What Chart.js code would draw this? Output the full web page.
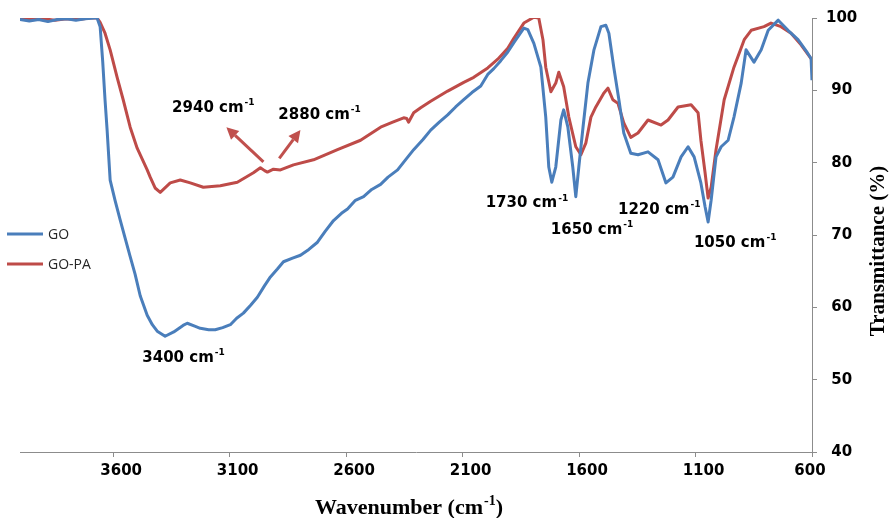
<!DOCTYPE html>
<html><head><meta charset="utf-8">
<script src="https://cdn.jsdelivr.net/npm/chart.js@4.4.0/dist/chart.umd.min.js"></script>
<style>html,body{margin:0;padding:0;background:#fff;overflow:hidden;}</style>
</head><body>
<canvas id="c" width="894" height="518"></canvas>
<script>
// ---- data ----
const seriesNames = ['GO', 'GO-PA'];
const goWave = [4000,3960,3920,3880,3840,3800,3760,3720,3680,3669,3656,3645,3635,3626,3613,3592,3570,3549,3527,3506,3484,3454,3432,3411,3377,3340,3300,3282,3250,3226,3190,3162,3130,3097,3070,3041,3010,2981,2950,2925,2895,2869,2830,2796,2760,2723,2690,2654,2620,2594,2560,2525,2490,2452,2420,2379,2340,2310,2270,2237,2200,2164,2130,2095,2060,2022,1992,1966,1936,1906,1880,1863,1837,1820,1794,1764,1743,1730,1717,1700,1678,1666,1648,1627,1614,1601,1583,1562,1536,1506,1485,1472,1451,1429,1408,1378,1347,1304,1261,1227,1197,1162,1132,1106,1077,1059,1046,1033,1012,990,960,935,904,883,849,818,788,745,703,660,620,604,600];
const goT = [99.8,99.6,99.8,99.5,99.8,99.9,99.7,99.9,100,100,98.8,94.0,88.7,84.5,77.6,74.8,72.1,69.6,67.0,64.6,61.6,58.9,57.6,56.7,56.0,56.6,57.5,57.8,57.4,57.1,56.9,56.9,57.2,57.6,58.5,59.2,60.3,61.4,63.0,64.2,65.3,66.3,66.8,67.2,68.0,69.0,70.5,72.0,73.0,73.6,74.8,75.3,76.3,77.0,78.0,79.0,80.6,81.8,83.2,84.5,85.6,86.6,87.7,88.7,89.7,90.6,92.2,93.0,94.1,95.3,96.6,97.4,98.6,98.4,96.5,93.2,86.3,79.4,77.3,79.4,85.9,87.3,84.9,79.4,75.3,79.4,84.9,91.0,95.6,98.8,99.0,97.9,93.2,88.7,84.1,81.3,81.1,81.5,80.4,77.2,78.0,80.8,82.2,80.8,77.2,73.9,71.8,74.8,80.8,82.2,83.1,86.3,91.0,95.6,93.9,95.6,98.3,99.7,98.3,97.0,95.2,94.4,91.4];
const gopaWave = [4000,3950,3900,3850,3800,3750,3700,3669,3656,3635,3613,3583,3557,3527,3497,3454,3441,3420,3398,3355,3312,3269,3213,3140,3067,2998,2968,2950,2938,2912,2882,2826,2740,2637,2538,2452,2400,2353,2340,2332,2310,2280,2237,2164,2095,2052,1992,1949,1906,1880,1837,1794,1773,1755,1743,1721,1700,1687,1666,1644,1614,1592,1571,1549,1528,1494,1476,1455,1433,1408,1378,1347,1304,1248,1218,1175,1119,1089,1077,1059,1046,1033,1012,977,935,891,861,806,776,733,690,647,600];
const gopaT = [100,99.8,99.9,99.7,99.9,99.8,100,100,99.4,97.9,95.6,91.8,88.7,84.9,82.0,79.0,78.0,76.5,75.9,77.2,77.6,77.2,76.6,76.8,77.3,78.6,79.3,78.9,78.7,79.1,79.0,79.7,80.4,81.8,83.1,84.9,85.6,86.2,86.1,85.6,86.9,87.6,88.5,89.9,91.1,91.8,93.1,94.3,95.8,97.2,99.3,100.1,100,97.0,93.2,89.8,91.0,92.5,90.5,86.3,82.2,81.1,82.7,86.3,87.7,89.6,90.3,88.7,88.2,85.5,83.5,84.1,85.9,85.2,85.9,87.7,88.0,86.9,83.1,78.6,75.1,76.6,81.8,88.7,93.2,97.0,98.3,98.8,99.3,98.8,97.9,96.3,94.2];
const xTickValues = [3600, 3100, 2600, 2100, 1600, 1100, 600];
const yTickValues = [40, 50, 60, 70, 80, 90, 100];
// peak annotations: label text, anchor (left edge, vertical middle) in data units
const peakText = ['3400', '2940', '2880', '1730', '1650', '1220', '1050'];
const peakW    = [3475, 3347, 2891, 2001, 1721, 1433, 1107];
const peakT    = [53.0, 87.6, 86.6, 74.4, 70.7, 73.5, 68.9];
// arrows (from -> to) in data units
const arrowFromW = [2955, 2887], arrowFromT = [80.1, 80.6];
const arrowToW   = [3114, 2796], arrowToT   = [84.9, 84.5];

const BLUE = '#4A7EBB', RED = '#BE4B48', AXIS = '#8c8c8c';
const pts = (w, t) => w.map((v, i) => ({x: v, y: t[i]}));

function drawSup(ctx, base, sup, x, y, f1, f2, rise) {
  ctx.font = f1; ctx.textAlign = 'left'; ctx.textBaseline = 'middle';
  ctx.fillText(base, x, y);
  const w = ctx.measureText(base).width;
  ctx.font = f2;
  ctx.fillText(sup, x + w + 1, y - rise);
  return w + 1 + ctx.measureText(sup).width;
}

const decor = {
  id: 'decor',
  beforeDraw(chart) {
    const sx = chart.scales.x;
    const items = sx.getLabelItems();
    items.forEach(it => { if (it.label === '600') it.options.translation[0] -= 10; });
  },
  afterDraw(chart) {
    const ctx = chart.ctx, sx = chart.scales.x, sy = chart.scales.y;
    ctx.save();
    // legend
    const leg = [[BLUE, 234], [RED, 264]];
    leg.forEach((l, i) => {
      ctx.strokeStyle = l[0]; ctx.lineWidth = 3; ctx.lineCap = 'butt';
      ctx.beginPath(); ctx.moveTo(7, l[1]); ctx.lineTo(43, l[1]); ctx.stroke();
      ctx.fillStyle = '#262626'; ctx.font = '14px "Open Sans"';
      ctx.textAlign = 'left'; ctx.textBaseline = 'middle';
      ctx.fillText(seriesNames[i], 48, l[1] + 1);
    });
    // peak labels
    ctx.fillStyle = '#000';
    peakText.forEach((t, i) => {
      drawSup(ctx, t + ' cm', '-1', sx.getPixelForValue(peakW[i]), sy.getPixelForValue(peakT[i]),
        'bold 15px "DejaVu Sans"', 'bold 9px "DejaVu Sans"', 5);
    });
    // arrows
    ctx.strokeStyle = '#C0504D'; ctx.fillStyle = '#C0504D'; ctx.lineWidth = 3;
    arrowFromW.forEach((w, i) => {
      const x0 = sx.getPixelForValue(w), y0 = sy.getPixelForValue(arrowFromT[i]);
      const x1 = sx.getPixelForValue(arrowToW[i]), y1 = sy.getPixelForValue(arrowToT[i]);
      const a = Math.atan2(y1 - y0, x1 - x0), hl = 12, hw = 6;
      const bx = x1 - hl * Math.cos(a), by = y1 - hl * Math.sin(a);
      ctx.beginPath(); ctx.moveTo(x0, y0); ctx.lineTo(bx, by); ctx.stroke();
      ctx.beginPath(); ctx.moveTo(x1, y1);
      ctx.lineTo(bx + hw * Math.sin(a), by - hw * Math.cos(a));
      ctx.lineTo(bx - hw * Math.sin(a), by + hw * Math.cos(a));
      ctx.closePath(); ctx.fill();
    });
    // x axis title
    ctx.fillStyle = '#000';
    const f1 = 'bold 22px "Liberation Serif"', f2 = 'bold 14px "Liberation Serif"';
    ctx.font = f1; const wA = ctx.measureText('Wavenumber (cm').width, wC = ctx.measureText(')').width;
    ctx.font = f2; const wB = ctx.measureText('-1').width;
    const total = wA + 1 + wB + wC;
    let x = 409 - total / 2;
    const used = drawSup(ctx, 'Wavenumber (cm', '-1', x, 508, f1, f2, 7);
    ctx.font = f1; ctx.fillText(')', x + used, 508);
    // y axis title
    ctx.translate(879, 251); ctx.rotate(-Math.PI / 2);
    ctx.font = 'bold 21px "Liberation Serif"'; ctx.textAlign = 'center'; ctx.textBaseline = 'middle';
    ctx.fillText('Transmittance (%)', 0, 0);
    ctx.restore();
  }
};

new Chart(document.getElementById('c'), {
  type: 'line',
  data: {
    datasets: [
      {label: seriesNames[0], data: pts(goWave, goT), borderColor: BLUE, borderWidth: 3, pointRadius: 0, tension: 0, borderJoinStyle: 'round', fill: false},
      {label: seriesNames[1], data: pts(gopaWave, gopaT), borderColor: RED, borderWidth: 3, pointRadius: 0, tension: 0, borderJoinStyle: 'round', fill: false}
    ]
  },
  options: {
    responsive: false, animation: false, devicePixelRatio: 1,
    layout: {padding: {left: 20, top: 18, right: 0, bottom: 0}},
    plugins: {legend: {display: false}, tooltip: {enabled: false}},
    scales: {
      x: {
        type: 'linear', reverse: true, min: 600, max: 4000,
        afterBuildTicks: s => { s.ticks = xTickValues.map(v => ({value: v})); },
        afterFit: s => { s.height = 66; },
        grid: {display: true, drawOnChartArea: false, drawTicks: true, tickLength: 5, color: AXIS, lineWidth: 1},
        border: {display: true, color: AXIS, width: 1},
        ticks: {font: {family: 'DejaVu Sans', weight: 'bold', size: 15}, color: '#000', padding: 5, maxRotation: 0, autoSkip: false, labelOffset: 8, callback: v => String(v)}
      },
      y: {
        type: 'linear', position: 'right', min: 40, max: 100,
        afterBuildTicks: s => { s.ticks = yTickValues.map(v => ({value: v})); },
        afterFit: s => { s.width = 82; },
        grid: {display: true, drawOnChartArea: false, drawTicks: true, tickLength: 5, color: AXIS, lineWidth: 1},
        border: {display: true, color: AXIS, width: 1},
        ticks: {font: {family: 'DejaVu Sans', weight: 'bold', size: 15}, color: '#000', padding: 9, crossAlign: 'center', callback: v => String(v)}
      }
    }
  },
  plugins: [decor]
});
</script>
</body></html>
